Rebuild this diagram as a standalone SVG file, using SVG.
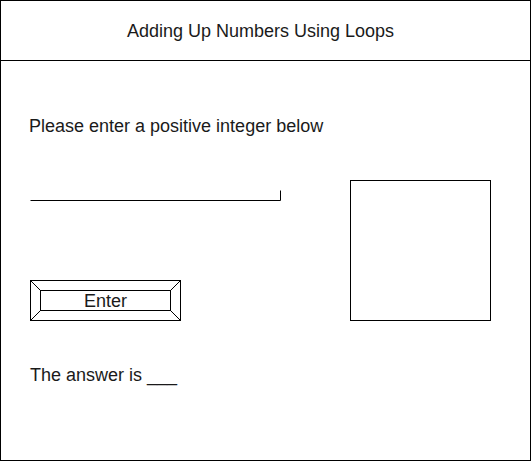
<svg xmlns="http://www.w3.org/2000/svg" width="531" height="461" viewBox="0 0 531 461">
<style>
.s{fill:none;stroke:#000;stroke-width:1}
.t{font-family:"Liberation Sans",Arial,sans-serif;font-size:18px;fill:#1a1a1a}
</style>
<rect x="0" y="0" width="531" height="461" fill="#fff"/>
<g id="frame">
<rect class="s" x="0.5" y="0.5" width="530" height="460"/>
<line class="s" x1="0.5" y1="60.5" x2="530.5" y2="60.5"/>
</g>
<g id="title">
<text class="t" x="260.5" y="36.5" text-anchor="middle">Adding Up Numbers Using Loops</text>
</g>
<g id="prompt">
<text class="t" x="29" y="131.5">Please enter a positive integer below</text>
</g>
<g id="input">
<path class="s" d="M30.5 200.5H280.5V190.5"/>
</g>
<g id="box">
<rect class="s" x="350.5" y="180.5" width="140" height="140"/>
</g>
<g id="button">
<rect class="s" x="30.5" y="280.5" width="150" height="40"/>
<rect class="s" x="40.5" y="290.5" width="130" height="20"/>
<path class="s" d="M30.5 280.5L40.5 290.5M180.5 280.5L170.5 290.5M30.5 320.5L40.5 310.5M180.5 320.5L170.5 310.5"/>
<text class="t" x="105.5" y="306.5" text-anchor="middle">Enter</text>
</g>
<g id="answer">
<text class="t" x="30" y="381">The answer is ___</text>
</g>
</svg>
